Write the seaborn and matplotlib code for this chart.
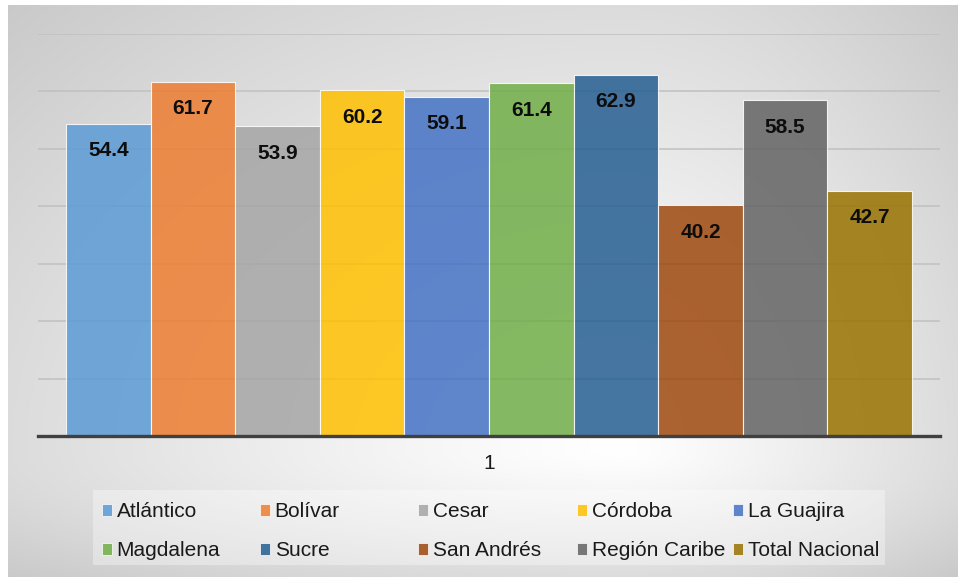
import numpy as np
import pandas as pd
import matplotlib
matplotlib.use("Agg")
import matplotlib.pyplot as plt
import matplotlib.patches as mpatches
import seaborn as sns

# ---- data ----
regions = ["Atlántico", "Bolívar", "Cesar", "Córdoba", "La Guajira",
           "Magdalena", "Sucre", "San Andrés", "Región Caribe", "Total Nacional"]
values = [54.4, 61.7, 53.9, 60.2, 59.1, 61.4, 62.9, 40.2, 58.5, 42.7]
category = ["1"] * len(regions)
colors = ["#5B9BD5", "#ED7D31", "#A5A5A5", "#FFC000", "#4472C4",
          "#70AD47", "#255E91", "#9E480E", "#636363", "#997300"]

df = pd.DataFrame({"cat": category, "region": regions, "value": values})

sns.set_theme(style="white")
plt.rcParams["font.family"] = ["Liberation Sans", "DejaVu Sans"]

W, H = 958, 577
fig = plt.figure(figsize=(W / 100, H / 100), dpi=100, facecolor="white")

def fx(px):
    return px / W

def fy(py):
    return 1 - py / H

# ---- background gradient (chart area) ----
x0, x1, y0, y1 = 8, 958, 5, 577
bg = fig.add_axes([fx(x0), fy(y1), fx(x1 - x0), (y1 - y0) / H], zorder=-10)
xs = np.arange(x0, x1) + 0.5
ys = np.arange(y0, y1) + 0.5
X, Y = np.meshgrid(xs, ys)
cx, cy = 620, 450
dxn = np.where(X < cx, (cx - X) / (cx - x0), (X - cx) / (x1 - cx))
dyn = np.where(Y < cy, (cy - Y) / (cy - y0), (Y - cy) / (y1 - cy))
t = np.clip(np.sqrt(dxn ** 2 + dyn ** 2) / np.sqrt(2), 0, 1)
c = 1 - 0.21 * t ** 1.2
bg.imshow(np.dstack([c, c, c]), aspect="auto", interpolation="bilinear")
bg.set_axis_off()

# ---- main axes ----
ax_l, ax_r, ax_t, ax_b = 38, 940, 34, 436
ax = fig.add_axes([fx(ax_l), fy(ax_b), fx(ax_r - ax_l), (ax_b - ax_t) / H])
ax.set_facecolor("none")

sns.barplot(data=df, x="cat", y="value", hue="region", hue_order=regions,
            palette=colors, saturation=1, width=0.938, dodge=True,
            edgecolor="white", linewidth=0.8, alpha=0.85, ax=ax, legend=False,
            zorder=3)

ax.set_ylim(0, 70)
ax.set_yticks(np.arange(0, 71, 10))
ax.set_yticklabels([])
ax.yaxis.grid(True, color="#c0c0c0", linewidth=1.1, zorder=0)
ax.set_axisbelow(True)
for s in ["top", "right", "left"]:
    ax.spines[s].set_visible(False)
ax.spines["bottom"].set_color("#404040")
ax.spines["bottom"].set_linewidth(2.4)
ax.spines["bottom"].set_zorder(5)
ax.tick_params(axis="both", length=0)
ax.tick_params(axis="x", pad=13, labelsize=15, labelcolor="#1a1a1a")
ax.set_xlabel("")
ax.set_ylabel("")

# data labels
for cont in ax.containers:
    for rect in cont:
        h = rect.get_height()
        ax.annotate(f"{h:.1f}", (rect.get_x() + rect.get_width() / 2, h),
                    xytext=(0, -19.5), textcoords="offset points",
                    ha="center", va="center", fontsize=15,
                    fontweight="bold", color="#0d0d0d", zorder=6)

# ---- legend ----
box = mpatches.Rectangle((fx(93), fy(565)), fx(885 - 93), (565 - 490) / H,
                         transform=fig.transFigure, facecolor="white",
                         alpha=0.35, edgecolor="none", zorder=1)
fig.patches.append(box)

col_x = [102, 260, 418, 577, 733]
for i, xpx in enumerate(col_x):
    idx = [i, i + 5]
    handles = [mpatches.Patch(facecolor=colors[k], edgecolor="white",
                              linewidth=0.6, alpha=0.85) for k in idx]
    labels = [regions[k] for k in idx]
    leg = fig.legend(handles, labels, loc="upper left",
                     bbox_to_anchor=(fx(xpx), fy(502)),
                     frameon=False, fontsize=15, borderpad=0,
                     borderaxespad=0, handlelength=0.5, handleheight=0.5,
                     handletextpad=0.2, labelspacing=0.98,
                     labelcolor="#1a1a1a")

fig.savefig("out.png", dpi=100, facecolor="white")
